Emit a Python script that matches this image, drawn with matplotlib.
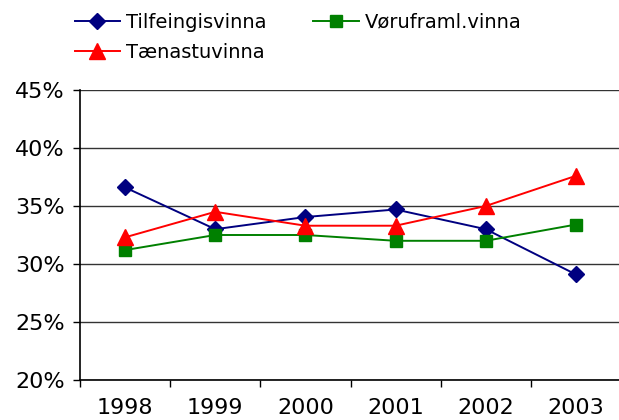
import matplotlib
matplotlib.use("Agg")
import matplotlib.pyplot as plt
from matplotlib.ticker import FixedLocator, PercentFormatter

# data
years = ["1998", "1999", "2000", "2001", "2002", "2003"]
tilfeingis = [36.6, 33.0, 34.05, 34.7, 33.0, 29.1]
voruframl = [31.2, 32.5, 32.5, 32.0, 32.0, 33.4]
taenastu = [32.3, 34.5, 33.3, 33.3, 35.0, 37.6]

labels = ["Tilfeingisvinna", "Vøruframl.vinna", "Tænastuvinna"]
yticks = [20, 25, 30, 35, 40, 45]

fig = plt.figure(figsize=(6.19, 4.2), dpi=100)
ax = fig.add_axes([80/619, 40/420, 541/619, 290/420])

x = list(range(len(years)))
l1, = ax.plot(x, tilfeingis, color="#000080", marker="D", markersize=8, lw=1.4)
l2, = ax.plot(x, voruframl, color="#008000", marker="s", markersize=8, lw=1.4)
l3, = ax.plot(x, taenastu, color="#FF0000", marker="^", markersize=11, lw=1.4)

ax.set_xlim(-0.5, len(years) - 0.5)
ax.set_ylim(20, 45)

# gridlines
for y in yticks:
    ax.axhline(y, color="#333333", lw=1.0, zorder=0)

ax.set_yticks(yticks)
ax.yaxis.set_major_formatter(PercentFormatter(decimals=0))
ax.tick_params(axis="y", length=5, width=1, labelsize=16, pad=6)

ax.set_xticks(x)
ax.set_xticklabels(years)
ax.xaxis.set_minor_locator(FixedLocator([i - 0.5 for i in range(len(years) + 1)]))
ax.tick_params(axis="x", which="major", length=0, labelsize=16, pad=13)
ax.tick_params(axis="x", which="minor", length=5, width=1)

for s in ["top", "right"]:
    ax.spines[s].set_visible(False)
ax.spines["left"].set_linewidth(1.2)
ax.spines["bottom"].set_linewidth(1.2)

fig.legend([l1, l3, l2], [labels[0], labels[2], labels[1]], ncol=2,
           loc="upper left", bbox_to_anchor=(62/619, 1.0), frameon=False,
           fontsize=14, handlelength=2.35, handletextpad=0.3,
           columnspacing=2.4, labelspacing=0.6, borderaxespad=0.25)

fig.savefig("out.png", dpi=100)
